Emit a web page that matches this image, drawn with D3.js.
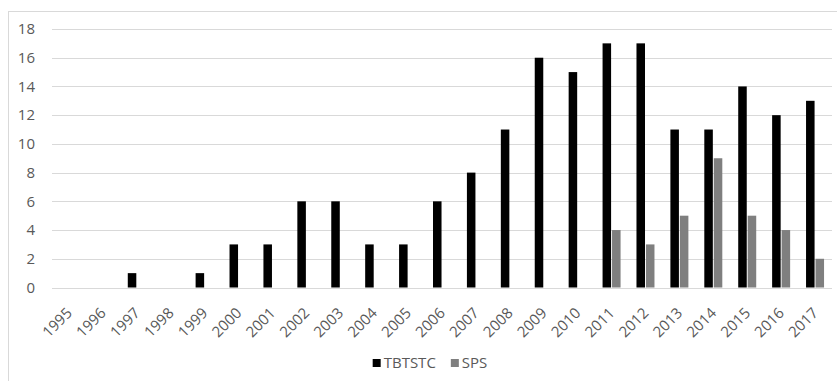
<!DOCTYPE html>
<html>
<head>
<meta charset="utf-8">
<script src="https://cdn.jsdelivr.net/npm/d3@7"></script>
<style>
  body { margin: 0; background: #fff; }
  text { font-family: "Open Sans", "Noto Sans", sans-serif; fill: #595959; }
</style>
</head>
<body>
<div id="chart"></div>
<script>
const years = ["1995","1996","1997","1998","1999","2000","2001","2002","2003","2004","2005","2006",
               "2007","2008","2009","2010","2011","2012","2013","2014","2015","2016","2017"]
const tbtstc = [0,0,1,0,1,3,3,6,6,3,3,6,8,11,16,15,17,17,11,11,14,12,13]
const sps    = [0,0,0,0,0,0,0,0,0,0,0,0,0,0,0,0,4,3,5,9,5,4,2]
const seriesNames = ["TBTSTC", "SPS"]
const seriesColors = ["#000000", "#7f7f7f"]
const yTicks = [0,2,4,6,8,10,12,14,16,18]

const width = 837, height = 381
const plotLeft = 52, plotRight = 832, plotTop = 29, plotBottom = 287.5

const svg = d3.select("#chart")
    .append("svg")
    .attr("width", width)
    .attr("height", height)

// chart frame (cut off on the right and bottom in the original)
svg.append("rect")
    .attr("x", 8.5).attr("y", 11.5)
    .attr("width", 860).attr("height", 400)
    .attr("fill", "none")
    .attr("stroke", "#d9d9d9")

const x0 = d3.scaleBand()
    .domain(years)
    .range([plotLeft, plotRight])

const groupWidth = 18
const x1 = d3.scaleBand()
    .domain(seriesNames)
    .range([0, groupWidth])
    .paddingInner(0.1)

const y = d3.scaleLinear()
    .domain([0, 18])
    .range([plotBottom, plotTop])

// gridlines
svg.append("g")
    .selectAll("line")
    .data(yTicks)
    .enter()
    .append("line")
    .attr("x1", plotLeft).attr("x2", plotRight)
    .attr("y1", d => Math.round(y(d)) + 0.5)
    .attr("y2", d => Math.round(y(d)) + 0.5)
    .attr("stroke", "#d9d9d9")
    .attr("stroke-width", 1)

// y labels
svg.append("g")
    .selectAll("text")
    .data(yTicks)
    .enter()
    .append("text")
    .attr("x", 35)
    .attr("y", d => y(d))
    .attr("dy", "0.35em")
    .attr("text-anchor", "end")
    .style("font-size", "15px")
    .text(d => d)

// bars
const rows = years.map((yr, i) => ({ year: yr, values: [tbtstc[i], sps[i]] }))
const offset = (x0.bandwidth() - groupWidth) / 2

svg.append("g")
    .selectAll("g")
    .data(rows)
    .enter()
    .append("g")
    .attr("transform", d => `translate(${x0(d.year) + offset},0)`)
    .selectAll("rect")
    .data(d => d.values.map((v, j) => ({ name: seriesNames[j], value: v, color: seriesColors[j] })))
    .enter()
    .filter(d => d.value > 0)
    .append("rect")
    .attr("x", d => x1(d.name))
    .attr("width", x1.bandwidth())
    .attr("y", d => y(d.value))
    .attr("height", d => y(0) - y(d.value))
    .attr("fill", d => d.color)

// x labels, rotated
svg.append("g")
    .selectAll("text")
    .data(years)
    .enter()
    .append("text")
    .attr("text-anchor", "end")
    .attr("transform", d => `translate(${x0(d) + x0.bandwidth() / 2 + 4},314)rotate(-45)`)
    .style("font-size", "15px")
    .text(d => d)

// legend
const legend = svg.append("g")
const items = legend.selectAll("g")
    .data(seriesNames)
    .enter()
    .append("g")
items.append("rect")
    .attr("width", 8).attr("height", 8)
    .attr("y", -9)
    .attr("fill", (d, i) => seriesColors[i])
items.append("text")
    .attr("x", 11)
    .style("font-size", "15px")
    .text(d => d)

let cursor = 0
items.each(function () {
    d3.select(this).attr("transform", `translate(${cursor},0)`)
    cursor += this.getBBox().width + 15
})
cursor -= 15
legend.attr("transform", `translate(${430 - cursor / 2},368)`)
</script>
</body>
</html>
